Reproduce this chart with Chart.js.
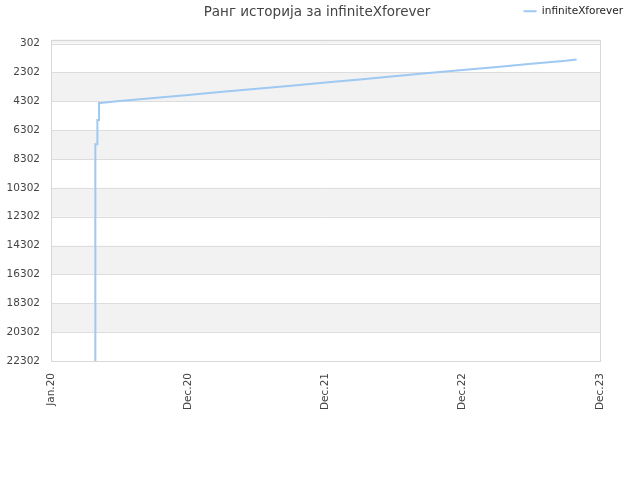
<!DOCTYPE html>
<html>
<head>
<meta charset="utf-8">
<script src="https://cdn.jsdelivr.net/npm/chart.js@4.4.0/dist/chart.umd.min.js"></script>
<style>
  html, body { margin: 0; padding: 0; background: #fff; }
  #wrap { width: 640px; height: 480px; }
</style>
</head>
<body>
<div id="wrap"><canvas id="rankChart"></canvas></div>
<script>
const chartTitle = 'Ранг историја за infiniteXforever';
const seriesName = 'infiniteXforever';
// x positions in "label units" (0 = Jan.20, 1 = Dec.20, ... 4 = Dec.23)
const xLabels = ['Jan.20', 'Dec.20', 'Dec.21', 'Dec.22', 'Dec.23'];
const rankX = [0.323, 0.323, 0.338, 0.338, 0.350, 0.350, 0.36, 0.5, 0.75, 1.0, 1.25, 1.5, 1.75, 2.0, 2.25, 2.5, 2.75, 3.0, 3.25, 3.5, 3.75, 3.83];
const rankY = [22302, 7279, 7279, 5604, 5604, 4418, 4418, 4290, 4080, 3860, 3650, 3430, 3220, 3000, 2790, 2570, 2350, 2140, 1920, 1700, 1490, 1400];
const yTicks = [302, 2302, 4302, 6302, 8302, 10302, 12302, 14302, 16302, 18302, 20302, 22302];

const points = rankX.map((x, i) => ({ x: x, y: rankY[i] }));

const bandsPlugin = {
    id: 'bands',
    beforeInit(chart) {
        // push the plot down below the title/legend row
        const origFit = chart.legend.fit;
        chart.legend.fit = function () {
            origFit.bind(chart.legend)();
            this.height += 13;
        };
    },
    afterLayout(chart) {
        // legend sits further right than the plot's right padding
        chart.legend.left += 29;
        chart.legend.right += 29;
    },
    beforeDatasetsDraw(chart) {
        const { ctx, chartArea, scales } = chart;
        const y = scales.y;
        ctx.save();
        ctx.fillStyle = '#f2f2f2';
        let edges = [y.min].concat(yTicks);
        for (let i = 0; i < edges.length - 1; i++) {
            if (i % 2 === 0) {
                const a = y.getPixelForValue(edges[i]);
                const b = y.getPixelForValue(edges[i + 1]);
                ctx.fillRect(chartArea.left, a, chartArea.right - chartArea.left, b - a);
            }
        }
        ctx.strokeStyle = '#dddddd';
        ctx.lineWidth = 1;
        yTicks.forEach(t => {
            const p = Math.round(y.getPixelForValue(t)) + 0.5;
            ctx.beginPath();
            ctx.moveTo(chartArea.left, p);
            ctx.lineTo(chartArea.right, p);
            ctx.stroke();
        });
        ctx.strokeStyle = '#d8d8d8';
        ctx.strokeRect(Math.round(chartArea.left) + 0.5, Math.round(chartArea.top) + 0.5,
            Math.round(chartArea.right - chartArea.left), Math.round(chartArea.bottom - chartArea.top));
        ctx.restore();
    },
    afterDraw(chart) {
        const ctx = chart.ctx;
        ctx.save();
        ctx.font = '13.5px "DejaVu Sans", sans-serif';
        ctx.fillStyle = '#444';
        ctx.textAlign = 'center';
        ctx.textBaseline = 'middle';
        ctx.fillText(chartTitle, 317, 12);
        ctx.restore();
    }
};

const ctx = document.getElementById('rankChart').getContext('2d');

new Chart(ctx, {
    type: 'line',
    data: {
        datasets: [{
            label: seriesName,
            data: points,
            borderColor: '#9ec9f2',
            backgroundColor: '#9ec9f2',
            borderWidth: 2,
            pointRadius: 0,
            tension: 0,
            fill: false
        }]
    },
    options: {
        responsive: true,
        maintainAspectRatio: false,
        animation: false,
        layout: { padding: { left: 4, right: 40, top: 0, bottom: 58 } },
        scales: {
            x: {
                type: 'linear',
                min: 0,
                max: 4,
                grid: { display: false, drawTicks: false },
                border: { display: false },
                afterBuildTicks: (axis) => { axis.ticks = xLabels.map((l, i) => ({ value: i })); },
                ticks: {
                    color: '#444',
                    font: { size: 10.5, family: 'DejaVu Sans' },
                    minRotation: 90,
                    maxRotation: 90,
                    padding: 12,
                    callback: (v) => xLabels[v]
                }
            },
            y: {
                reverse: true,
                min: 22,
                max: 22302,
                grid: { display: false, drawTicks: false },
                border: { display: false },
                afterBuildTicks: (axis) => { axis.ticks = yTicks.map(v => ({ value: v })); },
                afterFit: (axis) => { axis.width = 47; },
                ticks: {
                    color: '#444',
                    font: { size: 10.5, family: 'DejaVu Sans' },
                    padding: 11,
                    callback: (v) => String(v)
                }
            }
        },
        plugins: {
            title: { display: false },
            tooltip: { enabled: false },
            legend: {
                position: 'top',
                align: 'end',
                labels: {
                    color: '#222',
                    font: { size: 10.5, family: 'DejaVu Sans' },
                    usePointStyle: true,
                    pointStyle: 'line',
                    pointStyleWidth: 13,
                    padding: 6
                }
            }
        }
    },
    plugins: [bandsPlugin]
});
</script>
</body>
</html>
